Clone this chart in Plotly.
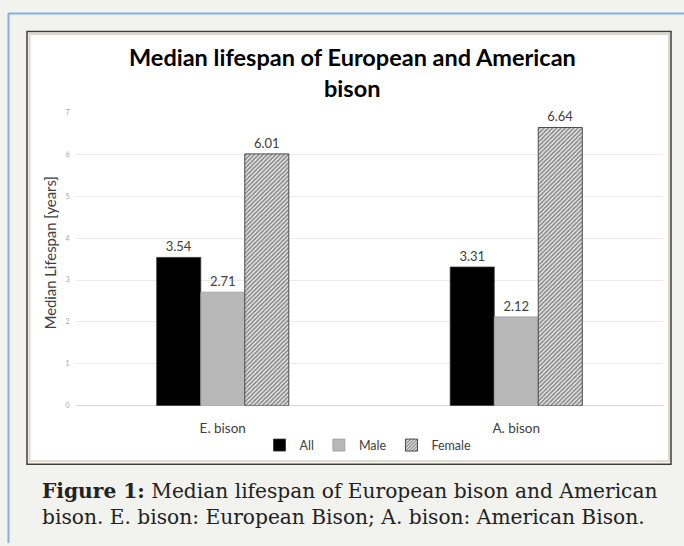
import plotly.graph_objects as go

categories = ["E. bison", "A. bison"]
series_names = ["All", "Male", "Female"]
all_vals = [3.54, 3.31]
male_vals = [2.71, 2.12]
female_vals = [6.01, 6.64]
y_ticks = [0, 1, 2, 3, 4, 5, 6, 7]

W, H = 684, 546

def px(x):
    return x / W

def py(y):
    return 1 - y / H

LBL = dict(family="Lato, 'Open Sans', sans-serif", size=13, color="#404040")

fig = go.Figure()
fig.add_trace(go.Bar(
    name=series_names[0], x=categories, y=all_vals,
    marker=dict(color="#000000", line=dict(color="#303030", width=0.8)),
    text=[f"{v:.2f}" for v in all_vals], textposition="outside",
    textfont=LBL, cliponaxis=False, constraintext="none",
))
fig.add_trace(go.Bar(
    name=series_names[1], x=categories, y=male_vals,
    marker=dict(color="#b8b8b8", line=dict(color="#9a9a9a", width=0.8)),
    text=[f"{v:.2f}" for v in male_vals], textposition="outside",
    textfont=LBL, cliponaxis=False, constraintext="none",
))
fig.add_trace(go.Bar(
    name=series_names[2], x=categories, y=female_vals,
    marker=dict(color="#ffffff", line=dict(color="#4a4a4a", width=1),
                pattern=dict(shape="/", fgcolor="#1e1e1e", bgcolor="#ffffff",
                             size=3, solidity=0.65)),
    text=[f"{v:.2f}" for v in female_vals], textposition="outside",
    textfont=LBL, cliponaxis=False, constraintext="none",
))

shapes = [
    dict(type="line", xref="paper", yref="paper", x0=px(8), x1=1, y0=py(8.5), y1=py(8.5),
         line=dict(color="#86aee0", width=2), layer="below"),
    dict(type="line", xref="paper", yref="paper", x0=px(8.5), x1=px(8.5), y0=py(8), y1=0,
         line=dict(color="#86aee0", width=2), layer="below"),
    dict(type="rect", xref="paper", yref="paper", x0=px(27), x1=px(671), y0=py(466), y1=py(27),
         fillcolor="#ffffff", line=dict(color="#3c3c3c", width=1.5), layer="below"),
    dict(type="rect", xref="paper", yref="paper", x0=px(29.5), x1=px(669), y0=py(463), y1=py(29.5),
         fillcolor="#ffffff", line=dict(color="#dcd8c8", width=2), layer="below"),
]

annotations = [
    dict(text="<b>Median lifespan of European and American</b>", x=px(352), y=py(53),
         xref="paper", yref="paper", showarrow=False, xanchor="center", yanchor="middle",
         font=dict(family="Lato, sans-serif", size=23.5, color="#000000")),
    dict(text="<b>bison</b>", x=px(352), y=py(84),
         xref="paper", yref="paper", showarrow=False, xanchor="center", yanchor="middle",
         font=dict(family="Lato, sans-serif", size=23.5, color="#000000")),
    dict(text="Median Lifespan [years]", x=px(50), y=py(252), textangle=-90,
         xref="paper", yref="paper", showarrow=False, xanchor="center", yanchor="middle",
         font=dict(family="Lato, sans-serif", size=14.8, color="#404040")),
    dict(text="<b>Figure 1:</b> Median lifespan of European bison and American<br>"
              "bison. E. bison: European Bison; A. bison: American Bison.",
         x=px(40), y=py(506), xref="paper", yref="paper", showarrow=False,
         xanchor="left", yanchor="middle", align="left",
         font=dict(family="'DejaVu Serif', serif", size=20.2, color="#222222")),
]

fig.update_layout(
    width=W, height=H,
    margin=dict(l=0, r=0, t=0, b=0),
    paper_bgcolor="#f2f2ee",
    plot_bgcolor="rgba(0,0,0,0)",
    barmode="group", bargap=0.55, bargroupgap=0,
    shapes=shapes, annotations=annotations,
    legend=dict(orientation="h", x=px(368), y=py(447), xanchor="center", yanchor="middle",
                font=dict(family="Lato, sans-serif", size=12.5, color="#404040"),
                bgcolor="rgba(0,0,0,0)", itemwidth=30, traceorder="normal"),
    xaxis=dict(domain=[px(76), px(663)], showgrid=False, zeroline=False, showline=False,
               ticks="outside", ticklen=10, tickcolor="rgba(0,0,0,0)",
               tickfont=dict(family="Lato, sans-serif", size=13.5, color="#404040")),
    yaxis=dict(domain=[py(406.7), py(109)], range=[0, 7], tickvals=y_ticks,
               showgrid=True, gridcolor="#ebebeb", gridwidth=1,
               zeroline=True, zerolinecolor="#d9d9d9", zerolinewidth=1, showline=False,
               ticks="outside", ticklen=4, tickcolor="rgba(0,0,0,0)",
               tickfont=dict(family="Lato, sans-serif", size=7, color="#a6a6a6")),
)

fig.write_html("out.html")
